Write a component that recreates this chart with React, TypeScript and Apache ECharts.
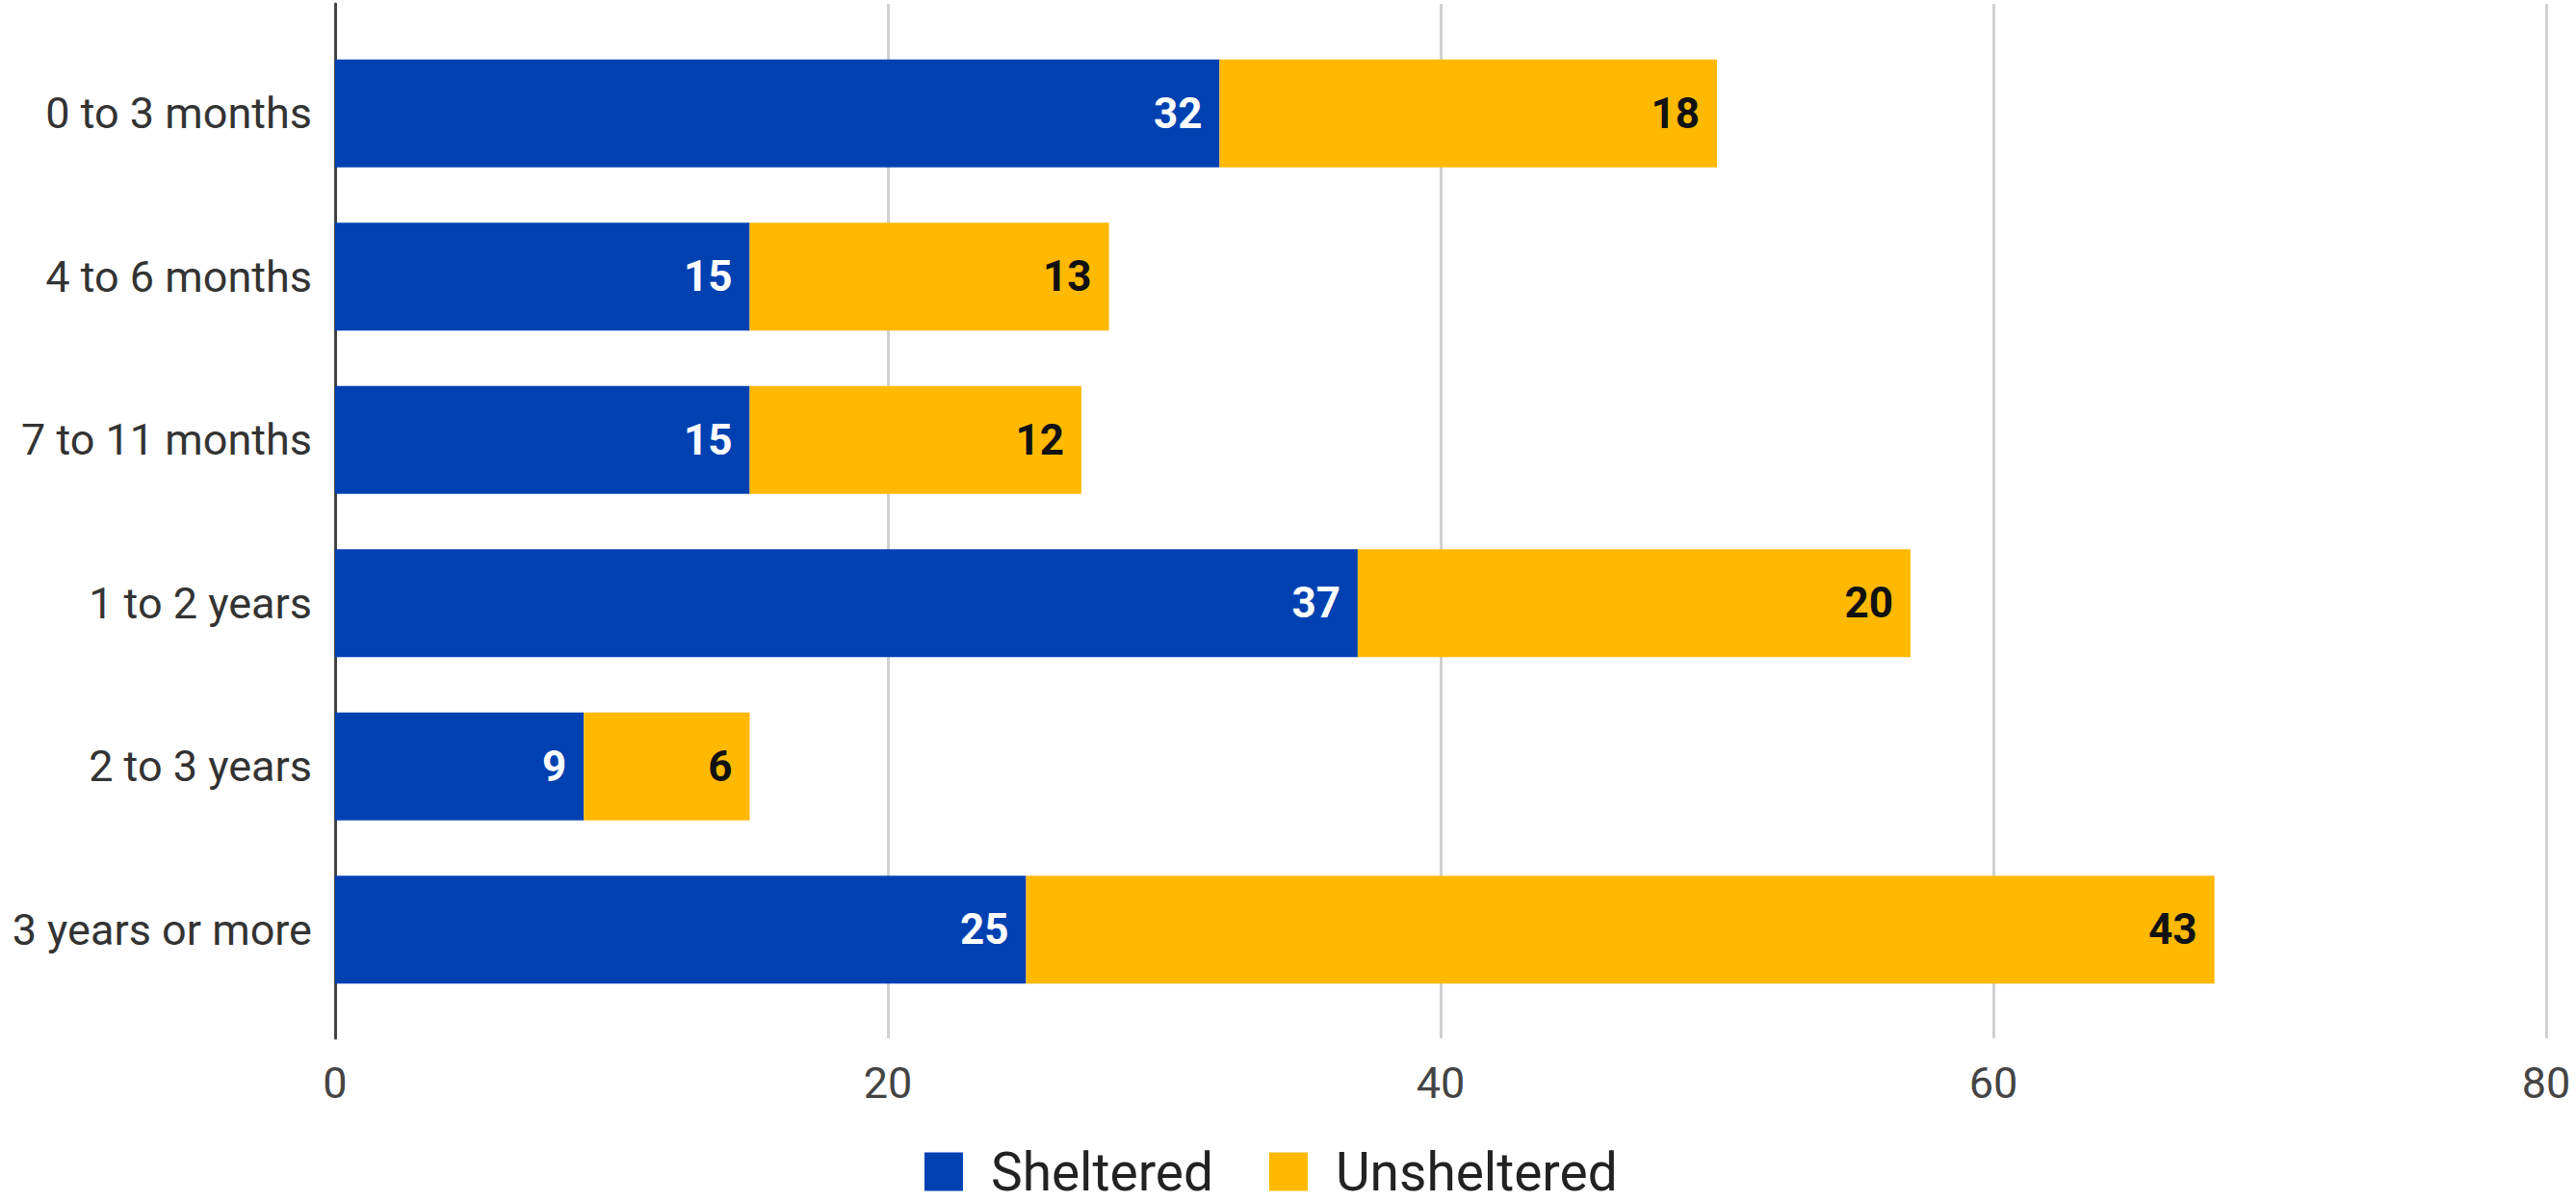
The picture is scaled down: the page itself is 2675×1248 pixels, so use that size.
import React, { useEffect, useRef } from "react";
import * as echarts from "echarts";

const categories = ["0 to 3 months", "4 to 6 months", "7 to 11 months", "1 to 2 years", "2 to 3 years", "3 years or more"];
const sheltered = [32, 15, 15, 37, 9, 25];
const unsheltered = [18, 13, 12, 20, 6, 43];
const seriesNames = ["Sheltered", "Unsheltered"];
const xTicks = { min: 0, max: 80, interval: 20 };

const FONT = "Roboto, 'Noto Sans', sans-serif";

export default function App() {
  const ref = useRef<HTMLDivElement>(null);
  useEffect(() => {
    document.body.style.margin = "0";
    const chart = echarts.init(ref.current!, null, { renderer: "svg" });
    chart.setOption({
      animation: false,
      backgroundColor: "#ffffff",
      textStyle: { fontFamily: FONT },
      grid: [
        { left: 348, right: 31, top: 4, bottom: 170 },
        { left: 348, right: 31, top: 33, bottom: 198 },
      ],
      xAxis: [
        {
          gridIndex: 0,
          type: "value",
          min: xTicks.min,
          max: xTicks.max,
          interval: xTicks.interval,
          axisLine: { show: false },
          axisTick: { show: false },
          splitLine: { show: true, lineStyle: { color: "#d0d0d0", width: 3 } },
          axisLabel: { fontSize: 45, color: "#444444", margin: 24, fontFamily: FONT },
        },
        {
          gridIndex: 1,
          type: "value",
          min: xTicks.min,
          max: xTicks.max,
          show: false,
        },
      ],
      yAxis: [
        {
          gridIndex: 0,
          type: "value",
          min: 0,
          max: 1,
          axisLine: { show: true, lineStyle: { color: "#444444", width: 3 } },
          axisTick: { show: false },
          axisLabel: { show: false },
          splitLine: { show: false },
        },
        {
          gridIndex: 1,
          type: "category",
          inverse: true,
          data: categories,
          axisLine: { show: false },
          axisTick: { show: false },
          splitLine: { show: false },
          axisLabel: { fontSize: 45, color: "#333333", margin: 24, fontFamily: FONT },
        },
      ],
      legend: {
        left: 955,
        top: 1184,
        icon: "rect",
        itemWidth: 40,
        itemHeight: 40,
        itemGap: 58,
        data: seriesNames,
        textStyle: { fontSize: 55, color: "#222222", fontFamily: FONT, padding: [0, 0, 0, 24] },
      },
      series: [
        {
          name: seriesNames[0],
          type: "bar",
          stack: "total",
          xAxisIndex: 1,
          yAxisIndex: 1,
          barWidth: 112,
          data: sheltered,
          itemStyle: { color: "#0041b2" },
          label: {
            show: true,
            position: "insideRight",
            distance: 18,
            color: "#ffffff",
            fontSize: 44,
            fontWeight: "bold",
            fontFamily: FONT,
          },
        },
        {
          name: seriesNames[1],
          type: "bar",
          stack: "total",
          xAxisIndex: 1,
          yAxisIndex: 1,
          barWidth: 112,
          data: unsheltered,
          itemStyle: { color: "#ffb900" },
          label: {
            show: true,
            position: "insideRight",
            distance: 18,
            color: "#111111",
            fontSize: 44,
            fontWeight: "bold",
            fontFamily: FONT,
          },
        },
      ],
    });
    return () => chart.dispose();
  }, []);
  return <div ref={ref} style={{ position: "absolute", left: 0, top: 0, width: 2675, height: 1248 }} />;
}
